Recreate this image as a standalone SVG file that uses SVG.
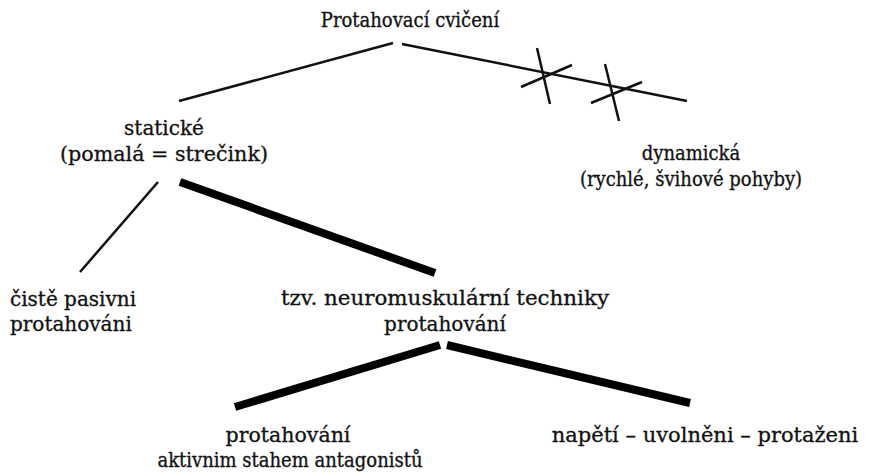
<svg xmlns="http://www.w3.org/2000/svg" width="871" height="472" viewBox="0 0 871 472">
<style>
text{font-family:"DejaVu Serif","Liberation Serif",serif;font-size:20px;fill:#111;text-anchor:middle;stroke:#111;stroke-width:0.3}
.c{font-family:"DejaVu Serif Condensed","DejaVu Serif",serif;font-stretch:condensed}
.st{text-anchor:start}
.thin{stroke:#111;stroke-width:2.5;fill:none}
.thick{stroke:#000;stroke-width:8;fill:none}
</style>
<rect width="871" height="472" fill="#fff"/>
<g id="connectors">
<line class="thin" x1="179" y1="101" x2="393" y2="43"/>
<line class="thin" x1="402" y1="44" x2="687" y2="101"/>
<line class="thin" x1="537" y1="48" x2="550" y2="104"/>
<line class="thin" x1="521" y1="87" x2="572" y2="65"/>
<line class="thin" x1="605" y1="64" x2="619" y2="121"/>
<line class="thin" x1="591" y1="103" x2="642" y2="82"/>
<line class="thin" x1="158" y1="182" x2="80" y2="272"/>
<line class="thick" x1="180" y1="182" x2="435" y2="273"/>
<line class="thick" x1="440" y1="345" x2="235" y2="407"/>
<line class="thick" x1="447" y1="345" x2="690" y2="403"/>
</g>
<g id="root"><text class="c" x="410" y="27">Protahovací cvičení</text></g>
<g id="staticke"><text x="164" y="135">statické</text><text x="164" y="161" textLength="208" lengthAdjust="spacingAndGlyphs">(pomalá = strečink)</text></g>
<g id="dynamicka"><text class="c" x="691" y="160">dynamická</text><text class="c" x="691" y="186">(rychlé, švihové pohyby)</text></g>
<g id="pasivni"><text x="10" y="306" class="st">čistě pasivni</text><text x="10" y="331" class="st">protahováni</text></g>
<g id="neuro"><text x="445" y="305" style="font-size:21px" textLength="328" lengthAdjust="spacingAndGlyphs">tzv. neuromuskulární techniky</text><text x="445" y="331">protahování</text></g>
<g id="aktivni"><text x="288" y="442" style="font-size:20.5px">protahování</text><text class="c" x="290" y="467">aktivnim stahem antagonistů</text></g>
<g id="napeti"><text x="705" y="442" style="font-size:21px">napětí – uvolněni – protaženi</text></g>
</svg>
